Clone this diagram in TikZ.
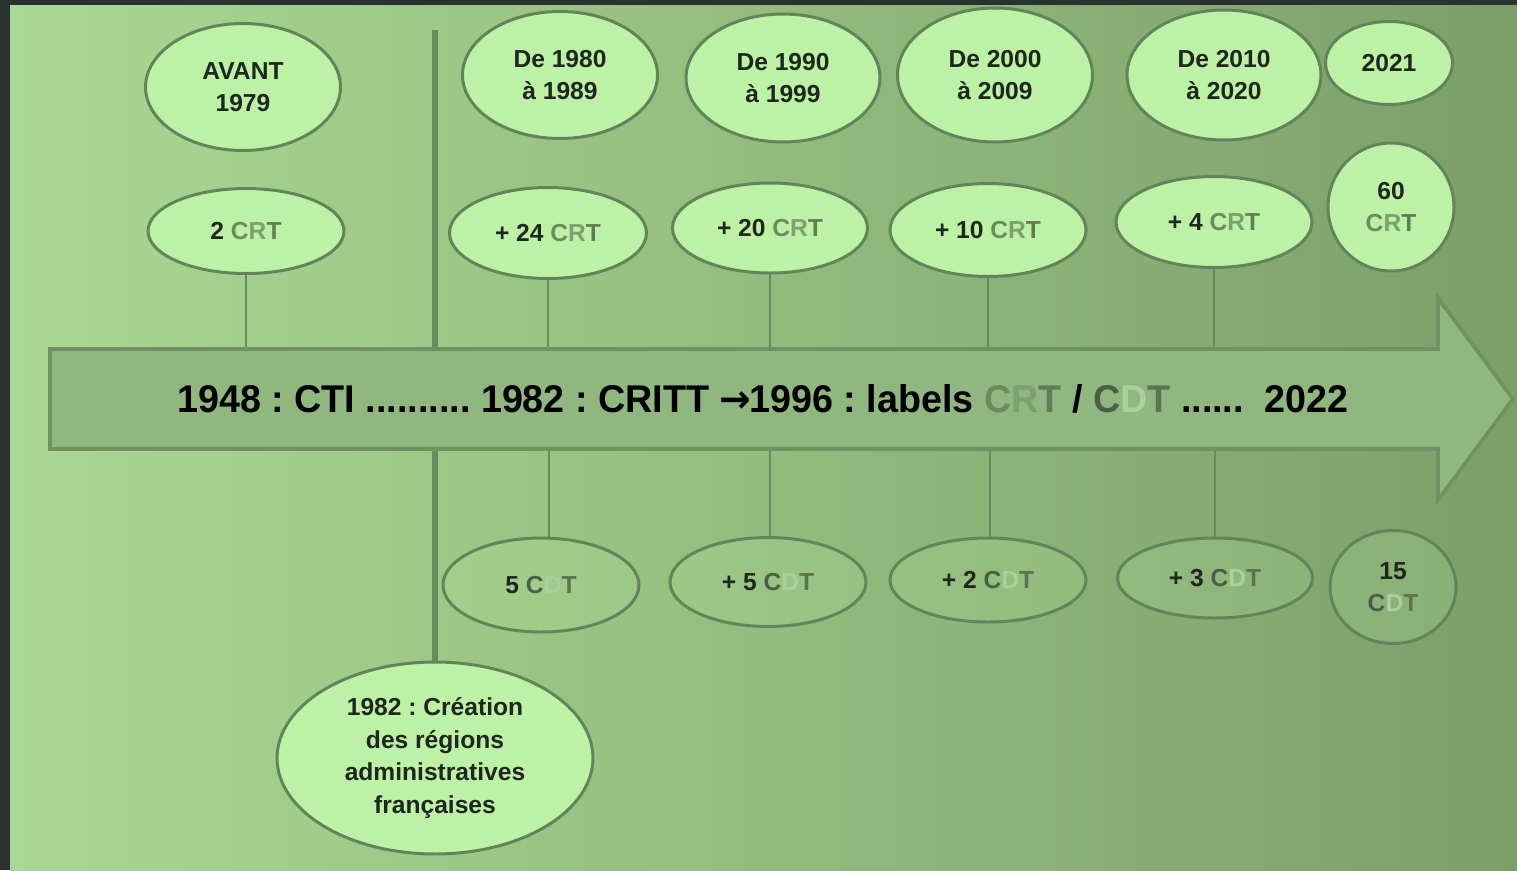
\documentclass[tikz,border=0pt]{standalone}
\usepackage{fontspec}
\usepackage{graphicx}
\setmainfont{Liberation Sans}
\newfontfamily\arrowfont{DejaVu Sans}
\usetikzlibrary{shapes.geometric}
\definecolor{bgdark}{HTML}{28332F}
\definecolor{bgleft}{HTML}{AAD892}
\definecolor{bgright}{HTML}{7C9F6A}
\definecolor{ellfill}{HTML}{BDF1A6}
\definecolor{ellline}{HTML}{62845A}
\definecolor{linecol}{HTML}{6A8A5E}
\definecolor{arrowfill}{HTML}{91B780}
\definecolor{arrowline}{HTML}{6E9262}
\definecolor{txt}{HTML}{1E261E}
\definecolor{crtC}{HTML}{6B8B5F}
\definecolor{crtR}{HTML}{7E9F71}
\definecolor{crtT}{HTML}{5F7D54}
\definecolor{cdtC}{HTML}{4A5F43}
\definecolor{cdtD}{HTML}{ABD099}
\definecolor{cdtT}{HTML}{5A7352}
\newcommand\crtword{{\color{crtC}C}{\color{crtR}R}{\color{crtT}T}}
\newcommand\cdtword{{\color{cdtC}C}{\color{cdtD}D}{\color{cdtT}T}}
\frenchspacing
\begin{document}
\begin{tikzpicture}[x=0.02cm,y=-0.02cm,
  ell/.style={ellipse, draw=ellline, line width=1.7pt, fill=ellfill, inner sep=0pt,
    text=txt, font=\fontsize{14}{18.5}\selectfont\bfseries, align=center},
  cdtell/.style={ell, fill opacity=0.18, text opacity=1},
  sz/.style 2 args={minimum width=#1, minimum height=#2},
  thin/.style={draw=linecol, line width=0.9pt},
  thickline/.style={draw=linecol, line width=3.4pt},
  arrowst/.style={draw=arrowline, line width=2.2pt, fill=arrowfill, line join=miter}]
\useasboundingbox (0,0) rectangle (1517,870);
% background
\fill[bgdark] (0,0) rectangle (1517,870);
\shade[left color=bgleft, right color=bgright] (10,5) rectangle (1517,870);

% arrow edge coordinates
\coordinate (atop) at (0,349);
\coordinate (abot) at (0,449);
\coordinate (ltop) at (435,30);

% top row
\node[ell, sz={3.90cm}{2.54cm}] (avant) at (243,87) {AVANT\\1979};
\node[ell, sz={3.90cm}{2.54cm}] (d80) at (560,75) {De 1980\\à 1989};
\node[ell, sz={3.88cm}{2.56cm}] (d90) at (783,78) {De 1990\\à 1999};
\node[ell, sz={3.90cm}{2.68cm}] (d00) at (995,75) {De 2000\\à 2009};
\node[ell, sz={3.88cm}{2.60cm}] (d10) at (1224,75) {De 2010\\à 2020};
\node[ell, sz={2.54cm}{1.66cm}] (y21) at (1389,63) {2021};

% CRT row
\node[ell, sz={3.92cm}{1.70cm}] (c0) at (246,231) {2 \crtword};
\node[ell, sz={3.94cm}{1.82cm}] (c1) at (548,233) {+ 24 \crtword};
\node[ell, sz={3.90cm}{1.80cm}] (c2) at (770,228) {+ 20 \crtword};
\node[ell, sz={3.92cm}{1.86cm}] (c3) at (988,230) {+ 10 \crtword};
\node[ell, sz={3.92cm}{1.82cm}] (c4) at (1214,222) {+ 4 \crtword};
\node[ell, sz={2.52cm}{2.56cm}] (c60) at (1391,207) {60\\\crtword};

% CDT row
\node[cdtell, sz={3.92cm}{1.88cm}] (k1) at (541,585) {5 \cdtword};
\node[cdtell, sz={3.92cm}{1.78cm}] (k2) at (768,582) {+ 5 \cdtword};
\node[cdtell, sz={3.92cm}{1.68cm}] (k3) at (988,580) {+ 2 \cdtword};
\node[cdtell, sz={3.90cm}{1.60cm}] (k4) at (1215,578) {+ 3 \cdtword};
\node[cdtell, sz={2.52cm}{2.26cm}] (k15) at (1393,587) {15\\\cdtword};

% regions
\node[ell, sz={6.32cm}{3.84cm}] (reg) at (435,758) {1982 : Création\\des régions\\administratives\\françaises};

% connectors (behind arrow)
\draw[thickline] (ltop) -- (reg.north);
\draw[thin] (c0.south) -- (c0.south |- atop);
\draw[thin] (c1.south) -- (c1.south |- atop);
\draw[thin] (c2.south) -- (c2.south |- atop);
\draw[thin] (c3.south) -- (c3.south |- atop);
\draw[thin] (c4.south) -- (c4.south |- atop);
\draw[thin] ([xshift=0.16cm]k1.north) -- ([xshift=0.16cm]k1.north |- abot);
\draw[thin] ([xshift=0.04cm]k2.north) -- ([xshift=0.04cm]k2.north |- abot);
\draw[thin] ([xshift=0.04cm]k3.north) -- ([xshift=0.04cm]k3.north |- abot);
\draw[thin] (k4.north) -- (k4.north |- abot);

% main arrow
\draw[arrowst] (50,349) -- (1438,349) -- (1438,298) -- (1513,399) -- (1438,500) -- (1438,449) -- (50,449) -- cycle;
\node[font=\fontsize{22}{26}\selectfont\bfseries, text=black, inner sep=0pt] (main) at (763,399)
  {\scalebox{0.975}[1]{1948 : CTI .......... 1982 : CRITT {\arrowfont\bfseries →}\kern-1pt1996 : labels \crtword{} / \cdtword{} ......\ \ 2022}};
\end{tikzpicture}
\end{document}
